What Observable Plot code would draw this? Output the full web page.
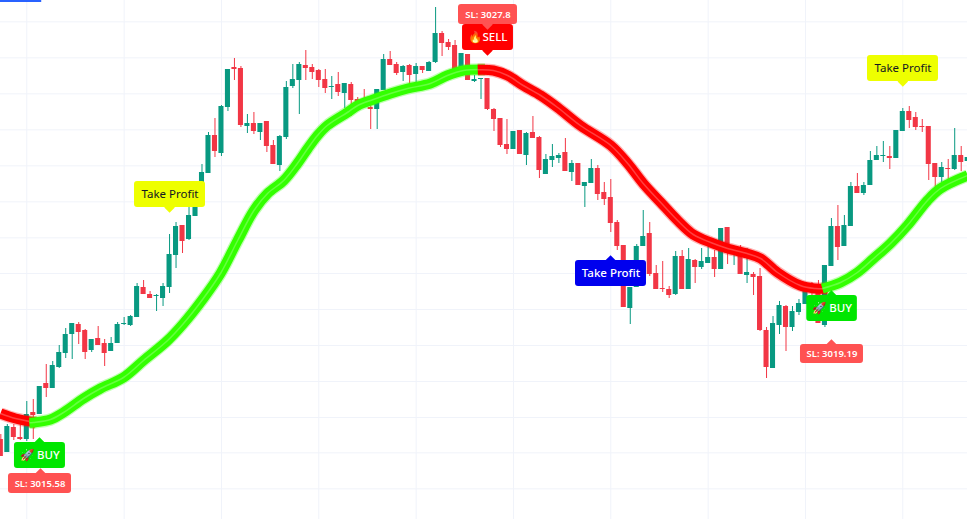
<!DOCTYPE html>
<html>
<head>
<meta charset="utf-8">
<style>html,body{margin:0;padding:0;background:#fff}svg{display:block}</style>
<script src="https://cdn.jsdelivr.net/npm/d3@7"></script>
<script src="https://cdn.jsdelivr.net/npm/@observablehq/plot@0.6"></script>
</head>
<body>
<div id="chart"></div>
<script>
const highs = [3014.98,3015.28,3015.28,3015.28,3015.97,3016.03,3016.42,3017.08,3017.17,3017.65,3018.16,3018.31,3018.34,3018.13,3017.83,3018.22,3017.83,3017.89,3018.34,3018.49,3018.55,3019.51,3019.60,3019.27,3019.18,3019.51,3020.98,3021.34,3021.25,3021.85,3022.06,3023.08,3024.04,3024.46,3024.85,3025.93,3026.26,3026.02,3024.58,3024.64,3024.31,3024.37,3023.80,3023.95,3025.57,3026.08,3026.14,3026.50,3026.08,3025.93,3025.93,3025.72,3025.84,3025.51,3025.54,3025.09,3025.33,3025.00,3025.33,3026.38,3026.47,3026.14,3026.05,3026.08,3026.11,3026.02,3026.17,3027.79,3027.07,3026.83,3026.80,3026.41,3026.38,3025.75,3025.66,3025.66,3024.76,3024.46,3024.43,3024.07,3024.10,3024.04,3024.52,3023.92,3023.38,3023.68,3023.41,3023.86,3023.20,3023.11,3022.54,3023.23,3023.05,3022.54,3022.63,3021.40,3020.65,3019.39,3020.68,3021.70,3021.34,3020.05,3020.17,3019.42,3020.47,3020.50,3020.56,3020.23,3020.56,3020.65,3020.50,3021.16,3021.19,3020.59,3020.65,3020.56,3019.84,3019.96,3018.19,3018.52,3018.97,3018.85,3018.82,3019.03,3019.45,3019.54,3019.60,3020.05,3021.46,3021.85,3021.55,3022.54,3022.81,3022.54,3023.47,3023.62,3023.77,3023.62,3024.10,3024.76,3024.82,3024.64,3024.43,3024.22,3023.11,3023.14,3023.23,3024.16,3023.62,3023.29];
const opens = [3014.83,3014.44,3015.19,3014.89,3014.83,3015.64,3015.58,3016.51,3016.36,3016.99,3017.41,3017.98,3018.28,3018.10,3017.50,3017.86,3017.71,3017.47,3017.71,3018.28,3018.25,3018.49,3019.39,3019.18,3019.12,3019.06,3019.39,3020.35,3021.25,3020.83,3021.52,3022.06,3022.81,3023.95,3023.41,3024.79,3025.99,3025.96,3024.22,3024.31,3024.04,3024.37,3023.65,3023.05,3023.89,3025.42,3025.60,3026.05,3025.99,3025.90,3025.63,3025.39,3025.48,3025.21,3025.48,3025.03,3024.91,3024.79,3024.73,3025.30,3026.23,3026.08,3025.84,3026.05,3025.78,3026.02,3025.87,3026.14,3027.01,3026.74,3026.65,3025.90,3026.38,3025.57,3025.63,3025.66,3024.73,3024.46,3023.68,3023.53,3024.10,3023.35,3024.04,3023.89,3022.78,3023.20,3023.26,3023.44,3022.84,3023.11,3022.42,3022.51,3022.96,3022.24,3022.09,3021.34,3020.65,3018.76,3019.39,3020.62,3021.01,3019.81,3019.36,3019.33,3019.18,3020.32,3019.33,3020.20,3019.99,3020.11,3020.29,3019.93,3021.19,3020.38,3020.50,3019.75,3019.78,3019.72,3018.10,3016.96,3018.25,3018.82,3018.19,3018.64,3018.88,3019.39,3019.45,3018.25,3020.02,3021.22,3020.62,3021.22,3022.42,3022.21,3022.45,3023.20,3023.32,3023.32,3023.26,3024.07,3024.67,3024.49,3024.22,3024.22,3023.11,3022.69,3022.96,3022.93,3023.35,3023.17];
const closes = [3014.32,3015.22,3014.89,3014.83,3015.58,3015.55,3016.42,3016.36,3017.05,3017.44,3017.98,3018.31,3018.04,3017.44,3017.83,3017.65,3017.41,3017.71,3018.28,3018.31,3018.52,3019.42,3019.18,3019.06,3019.15,3019.42,3020.38,3021.22,3020.77,3021.55,3022.06,3022.84,3023.95,3023.47,3024.82,3025.93,3025.93,3024.25,3024.31,3024.07,3024.31,3023.62,3023.08,3023.92,3025.39,3025.63,3026.08,3025.96,3025.84,3025.60,3025.36,3025.42,3025.24,3025.51,3025.00,3024.85,3024.85,3024.73,3025.33,3026.23,3026.05,3025.81,3026.02,3025.75,3026.02,3025.90,3026.14,3027.01,3026.71,3026.59,3025.90,3026.41,3025.60,3025.63,3025.66,3024.73,3024.43,3023.65,3023.53,3024.07,3023.38,3024.01,3023.86,3022.90,3023.23,3023.32,3023.35,3022.87,3023.11,3022.45,3022.54,3022.96,3022.18,3022.03,3021.31,3020.62,3018.79,3019.39,3020.62,3020.92,3019.78,3019.33,3019.33,3019.15,3020.32,3019.33,3020.23,3019.99,3020.17,3020.29,3019.93,3021.16,3020.41,3020.44,3019.78,3019.84,3019.69,3018.10,3016.99,3018.31,3018.85,3018.19,3018.67,3018.91,3019.30,3019.24,3018.31,3020.05,3021.22,3020.59,3021.25,3022.42,3022.21,3022.45,3023.20,3023.35,3023.35,3023.26,3024.10,3024.67,3024.40,3024.19,3024.19,3023.08,3022.69,3022.99,3022.93,3023.35,3023.14,3023.29];
const lows = [3014.32,3014.44,3014.80,3014.80,3014.77,3014.83,3015.58,3016.09,3016.36,3016.96,3017.26,3017.23,3017.68,3017.23,3017.44,3017.65,3017.02,3017.47,3017.71,3018.25,3018.22,3018.49,3019.18,3019.06,3018.67,3018.82,3019.21,3019.96,3020.41,3020.80,3021.52,3022.06,3022.81,3023.29,3023.32,3024.67,3025.60,3024.19,3024.01,3023.98,3023.80,3023.44,3023.08,3022.87,3023.83,3025.36,3024.58,3025.60,3025.63,3025.39,3025.21,3025.03,3025.12,3024.76,3024.52,3024.85,3024.85,3024.13,3024.13,3025.30,3026.05,3025.75,3025.57,3025.51,3025.51,3025.81,3025.87,3026.11,3026.32,3026.50,3025.90,3025.90,3025.60,3025.54,3025.03,3024.70,3024.07,3023.59,3023.38,3023.53,3023.38,3023.05,3023.86,3022.66,3022.78,3022.99,3023.11,3022.87,3022.57,3022.45,3021.79,3022.51,3022.00,3021.85,3021.04,3020.50,3018.79,3018.28,3019.39,3020.62,3019.72,3019.33,3019.24,3019.06,3019.15,3019.33,3019.33,3019.51,3019.93,3020.11,3019.69,3019.93,3020.08,3020.05,3019.78,3019.51,3019.15,3018.07,3016.66,3016.96,3017.98,3017.47,3018.07,3018.55,3018.88,3019.15,3018.31,3018.19,3020.02,3020.20,3020.62,3021.22,3022.21,3022.15,3022.45,3023.20,3023.14,3022.93,3023.26,3024.07,3024.16,3024.10,3024.04,3022.60,3022.39,3022.54,3022.63,3022.90,3022.87,3023.17];

const maRedStartBar = [-0.05,2.26,5.4];
const maRedStartVal = [3015.61,3015.46,3015.34];
const maGreenABar = [4.4,5.03,7.65,9.66,12.74,15.36,18.9,22,25.7,28.15,31.2,33.85,36.5,39,41.1,43.6,45.7,47.3,48.8,50.3,53.4,55,57.4,60.05,62.7,66.2,68.8,71.3,74.6];
const maGreenAVal = [3015.33,3015.34,3015.43,3015.64,3016.06,3016.36,3016.69,3017.20,3017.80,3018.31,3019.06,3019.81,3020.80,3021.70,3022.21,3022.60,3023.11,3023.56,3023.95,3024.25,3024.64,3024.85,3025.03,3025.21,3025.36,3025.51,3025.75,3025.90,3025.93];
const maRedBar = [73.5,75.9,78.1,80.5,83.2,85.8,89.3,94,96.6,99,101.7,104.3,106.7,109.4,112,115,117.1,119.7,123.2,125.5,127.4];
const maRedVal = [3025.92,3025.90,3025.75,3025.45,3025.15,3024.79,3024.25,3023.65,3023.11,3022.51,3021.94,3021.40,3020.98,3020.74,3020.56,3020.41,3020.26,3019.84,3019.45,3019.36,3019.35];
const maGreenBBar = [126.6,129.4,132,134.5,137.1,139.7,142.8,144.8,149];
const maGreenBVal = [3019.36,3019.54,3019.84,3020.26,3020.71,3021.25,3022.00,3022.36,3022.75];

const gridBars = [4,19,34,49,64,79,94,109,124,139];
const gridPrices = [3027.36,3026.28,3025.20,3024.12,3023.04,3021.96,3020.88,3019.81,3018.73,3017.65,3016.57,3015.49,3014.43,3013.35];
const topStripBars = [-0.052,6.3];

const labelText = ["🚀 BUY","SL: 3015.58","Take Profit","🔥SELL","SL: 3027.8","Take Profit","🚀 BUY","SL: 3019.19","Take Profit"];
const labelLeft = [2.1,1.18,20.6,71.15,70.53,88.56,124.2,123.23,133.56];
const labelRight = [9.96,10.89,31.54,79.0,79.62,99.5,132.0,132.94,144.5];
const labelTop = [3014.74,3013.81,3022.57,3027.28,3027.88,3020.2,3019.15,3017.68,3026.35];
const labelBottom = [3013.96,3013.21,3021.79,3026.50,3027.28,3019.42,3018.37,3017.11,3025.57];
const labelTipBar = [5.96,6.11,26,75,75,93.96,128,128,139];
const labelTipPrice = [3014.74,3013.81,3021.79,3026.50,3027.28,3020.2,3019.15,3017.68,3025.57];
const labelFill = ["#00e600","#ff5252","#eeff00","#ff0000","#ff5252","#0000ee","#00e600","#ff5252","#eeff00"];
const labelInk = ["#fff","#fff","#131722","#fff","#fff","#fff","#fff","#fff","#131722"];
const labelSize = [11.5,9.5,11.5,11.5,9.5,11.5,11.5,9.5,11.5];
const labelWeight = [500,600,400,500,600,500,500,600,400];

const candles = opens.map((o,i)=>({i,o,c:closes[i],h:highs[i],l:lows[i],col:closes[i]>=o?"#089981":"#f23645"}));
const series = (b,v)=>b.map((x,k)=>({x,y:v[k]}));
const labels = labelText.map((t,k)=>({t,x1:labelLeft[k],x2:labelRight[k],y1:labelTop[k],y2:labelBottom[k],tx:labelTipBar[k],ty:labelTipPrice[k],fill:labelFill[k],ink:labelInk[k],fs:labelSize[k],fw:labelWeight[k]}));

const glow = (data,color)=>[
  Plot.line(data,{x:"x",y:"y",stroke:color,strokeWidth:12.5,strokeOpacity:0.3,curve:"catmull-rom",strokeLinecap:"butt"}),
  Plot.line(data,{x:"x",y:"y",stroke:color,strokeWidth:10,curve:"catmull-rom",strokeLinecap:"butt"}),
  Plot.line(data,{x:"x",y:"y",stroke:"#fff",strokeWidth:1.5,strokeOpacity:0.25,curve:"catmull-rom",strokeLinecap:"butt"})
];

const chart = Plot.plot({
  width:967,height:519,margin:0,
  style:{background:"#fff",overflow:"hidden"},
  x:{domain:[-0.052,148.97],axis:null},
  y:{domain:[3012.43,3028],axis:null},
  marks:[
    Plot.ruleX(gridBars,{stroke:"#f0f3fa",strokeWidth:1}),
    Plot.ruleY(gridPrices,{stroke:"#f0f3fa",strokeWidth:1}),
    Plot.ruleY([3028],{x1:topStripBars[0],x2:topStripBars[1],stroke:"#2962ff",strokeWidth:3}),
    Plot.ruleX(candles,{x:"i",y1:"l",y2:"h",stroke:"col",strokeWidth:1}),
    Plot.rect(candles,{x1:d=>d.i-0.39,x2:d=>d.i+0.39,y1:"o",y2:"c",fill:"col"}),
    ...glow(series(maRedStartBar,maRedStartVal),"#ff0000"),
    ...glow(series(maGreenABar,maGreenAVal),"#33ff00"),
    ...glow(series(maRedBar,maRedVal),"#ff0000"),
    ...glow(series(maGreenBBar,maGreenBVal),"#33ff00"),
    ...labels.flatMap(d=>[
      Plot.dot([d],{x:"tx",y:"ty",symbol:"square",r:4.2,rotate:45,fill:"fill",stroke:null}),
      Plot.rect([d],{x1:"x1",x2:"x2",y1:"y1",y2:"y2",fill:"fill",rx:3}),
      Plot.text([d],{x:e=>(e.x1+e.x2)/2,y:e=>(e.y1+e.y2)/2,text:"t",fill:"ink",fontSize:d.fs,fontWeight:d.fw,fontFamily:"'Noto Sans',sans-serif"})
    ])
  ]
});
document.getElementById("chart").append(chart);
</script>
</body>
</html>
